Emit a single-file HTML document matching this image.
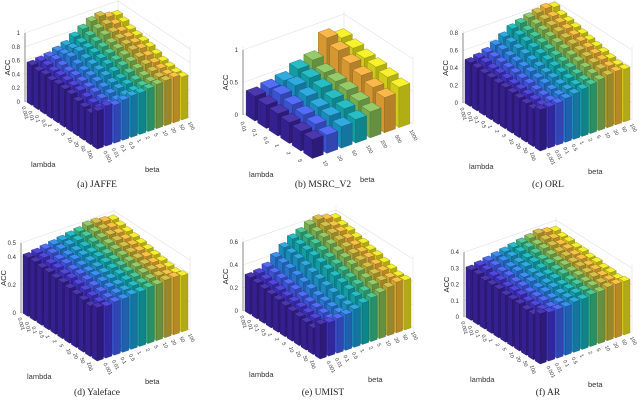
<!DOCTYPE html>
<html><head><meta charset="utf-8">
<style>
html,body{margin:0;padding:0;background:#fff;}
svg{display:block;}
text{font-family:"Liberation Sans",sans-serif;}
.cap{font-family:"Liberation Serif",serif;font-size:9.5px;fill:#222;}
</style></head>
<body>
<svg id="chart" width="640" height="402" viewBox="0 0 640 402"></svg>
<script>
// ---- data ----
const lambdaTicks11 = ["0.001","0.01","0.1","0.5","1","2","5","10","20","50","100"];
const betaTicks11 = ["0.001","0.01","0.1","0.5","1","2","5","10","20","50","100"];
const lambdaTicksB = ["0.01","0.1","0.5","1","2","5"];
const betaTicksB = ["10","20","50","100","200","500","1000"];

const accJAFFE = [
[.58,.60,.62,.66,.70,.78,.85,.92,.95,.90,.88],
[.56,.60,.64,.68,.72,.76,.82,.88,.90,.86,.85],
[.57,.58,.62,.70,.74,.75,.80,.85,.85,.82,.80],
[.55,.58,.60,.66,.70,.74,.78,.80,.82,.80,.78],
[.56,.57,.60,.63,.68,.72,.75,.78,.80,.78,.76],
[.55,.56,.58,.62,.66,.70,.72,.75,.78,.76,.74],
[.54,.55,.56,.60,.64,.66,.70,.72,.74,.72,.70],
[.50,.52,.55,.58,.60,.62,.66,.68,.70,.68,.66],
[.48,.50,.52,.55,.58,.60,.62,.64,.66,.66,.64],
[.46,.48,.50,.52,.55,.57,.60,.62,.64,.64,.62],
[.55,.58,.55,.58,.60,.60,.62,.64,.65,.66,.62]];
const accMSRC = [
[.38,.42,.46,.56,.62,.88,.80],
[.36,.44,.50,.54,.54,.80,.76],
[.34,.40,.45,.50,.52,.72,.72],
[.32,.36,.40,.45,.50,.65,.70],
[.30,.33,.38,.41,.45,.58,.66],
[.29,.28,.33,.36,.40,.54,.62]];
const accORL = [
[.50,.52,.55,.60,.66,.72,.75,.78,.80,.82,.80],
[.49,.52,.55,.60,.65,.70,.72,.76,.78,.78,.76],
[.48,.50,.54,.58,.63,.68,.70,.74,.76,.76,.74],
[.48,.50,.53,.57,.62,.66,.68,.72,.74,.74,.72],
[.47,.49,.52,.56,.60,.64,.66,.70,.72,.72,.70],
[.47,.48,.51,.55,.58,.62,.64,.68,.70,.70,.68],
[.46,.47,.50,.53,.56,.60,.62,.66,.68,.68,.66],
[.45,.46,.48,.52,.55,.58,.60,.64,.66,.66,.64],
[.44,.45,.47,.50,.53,.56,.58,.62,.64,.64,.62],
[.43,.44,.46,.49,.52,.54,.56,.60,.62,.62,.60],
[.47,.47,.48,.50,.52,.54,.56,.58,.60,.61,.60]];
const accYale = [
[.42,.43,.44,.45,.46,.47,.48,.50,.50,.49,.48],
[.42,.43,.44,.45,.46,.47,.48,.49,.49,.48,.47],
[.41,.42,.43,.44,.45,.46,.47,.48,.48,.47,.46],
[.41,.42,.43,.44,.45,.45,.46,.47,.47,.46,.45],
[.40,.41,.42,.43,.44,.45,.45,.46,.46,.45,.44],
[.40,.41,.42,.42,.43,.44,.44,.45,.45,.44,.43],
[.39,.40,.41,.42,.42,.43,.43,.44,.44,.43,.42],
[.38,.39,.40,.41,.41,.42,.42,.43,.43,.42,.41],
[.37,.38,.39,.40,.40,.41,.41,.42,.42,.41,.40],
[.36,.37,.38,.39,.39,.40,.40,.41,.41,.40,.39],
[.38,.37,.38,.38,.39,.39,.40,.40,.41,.41,.40]];
const accUMIST = [
[.32,.33,.36,.42,.48,.53,.56,.60,.62,.60,.58],
[.31,.32,.35,.41,.47,.52,.55,.58,.60,.58,.56],
[.30,.31,.34,.40,.46,.51,.54,.57,.58,.57,.55],
[.29,.30,.33,.38,.44,.50,.52,.55,.56,.55,.53],
[.28,.29,.32,.36,.42,.48,.50,.53,.54,.53,.52],
[.27,.28,.30,.34,.40,.46,.48,.51,.52,.51,.50],
[.26,.27,.29,.32,.38,.44,.46,.49,.50,.50,.49],
[.25,.26,.28,.31,.36,.42,.44,.47,.48,.48,.47],
[.24,.25,.27,.30,.34,.40,.42,.45,.46,.46,.45],
[.23,.24,.26,.29,.33,.38,.40,.43,.44,.44,.43],
[.30,.29,.30,.31,.33,.36,.38,.40,.42,.44,.43]];
const accAR = [
[.31,.32,.33,.34,.35,.36,.37,.38,.39,.38,.37],
[.31,.32,.33,.34,.35,.36,.37,.37,.38,.37,.36],
[.30,.31,.32,.33,.34,.35,.36,.37,.37,.36,.36],
[.30,.31,.32,.33,.34,.35,.35,.36,.36,.36,.35],
[.30,.30,.31,.32,.33,.34,.35,.35,.36,.35,.35],
[.29,.30,.31,.32,.33,.33,.34,.35,.35,.35,.34],
[.29,.30,.30,.31,.32,.33,.34,.34,.35,.34,.34],
[.29,.29,.30,.31,.32,.32,.33,.34,.34,.34,.33],
[.28,.29,.30,.30,.31,.32,.33,.33,.34,.33,.33],
[.28,.29,.29,.30,.31,.32,.32,.33,.33,.33,.32],
[.31,.30,.30,.30,.31,.31,.32,.32,.33,.33,.33]];
const ticksA = [0,0.2,0.4,0.6,0.8,1];
const ticksB = [0,0.5,1];
const ticksC = [0,0.2,0.4,0.6,0.8];
const ticksD = [0,0.2,0.4,0.5];
const ticksE = [0,0.2,0.4,0.6];
const ticksF = [0,0.1,0.2,0.3,0.4];

const colors11 = ['#3e26a8','#4538d9','#4560f5','#2d86f0','#1fa3dc','#16b8c0','#3bc591','#8cc85c','#d2bd3a','#fbbd38','#f6ec1f'];
const colors7 = ['#3e26a8','#4560f5','#1fa3dc','#16b8c0','#8cc85c','#fbb23a','#f6f01c'];

const panels = [
 {name:'jaffe',cap:'(a)  JAFFE',cx:97,cy:187,data:accJAFFE,lt:lambdaTicks11,bt:betaTicks11,ticks:ticksA,L:[25,102],F:[97,150],R:[190,118],S:69,cols:colors11,w:0.74},
 {name:'msrc',cap:'(b)  MSRC_V2',cx:323,cy:187,data:accMSRC,lt:lambdaTicksB,bt:betaTicksB,ticks:ticksB,L:[243,115],F:[312,160],R:[413,124],S:65,cols:colors7,w:0.76},
 {name:'orl',cap:'(c)  ORL',cx:548,cy:187,data:accORL,lt:lambdaTicks11,bt:betaTicks11,ticks:ticksC,L:[463,103],F:[540,152],R:[632,120],S:87.5,cols:colors11,w:0.74},
 {name:'yaleface',cap:'(d)  Yaleface',cx:97,cy:395,data:accYale,lt:lambdaTicks11,bt:betaTicks11,ticks:ticksD,L:[21,313],F:[97,362],R:[190,330],S:140,cols:colors11,w:0.74},
 {name:'umist',cap:'(e)  UMIST',cx:323,cy:395,data:accUMIST,lt:lambdaTicks11,bt:betaTicks11,ticks:ticksE,L:[243,311],F:[320,360],R:[413,328],S:115,cols:colors11,w:0.74},
 {name:'ar',cap:'(f)  AR',cx:548,cy:395,data:accAR,lt:lambdaTicks11,bt:betaTicks11,ticks:ticksF,L:[464,317],F:[540,365],R:[632,333],S:162,cols:colors11,w:0.74}
];

const NS='http://www.w3.org/2000/svg';
const svg=document.getElementById('chart');
function mk(tag,attrs,parent){const e=document.createElementNS(NS,tag);for(const k in attrs)e.setAttribute(k,attrs[k]);(parent||svg).appendChild(e);return e;}
function shade(hex,f){const n=parseInt(hex.slice(1),16);let r=(n>>16)&255,g=(n>>8)&255,b=n&255;
 const c=x=>Math.max(0,Math.min(255,Math.round(f>1?x+(255-x)*(f-1):x*f)));return `rgb(${c(r)},${c(g)},${c(b)})`;}

panels.forEach(p=>{
 const g=mk('g',{});
 
 
 const nl=p.data.length, nb=p.data[0].length;
 const v=[(p.F[0]-p.L[0])/nl,(p.F[1]-p.L[1])/nl];
 const u=[(p.R[0]-p.F[0])/nb,(p.R[1]-p.F[1])/nb];
 const zmax=p.ticks[p.ticks.length-1];
 const P=(i,j,z)=>[p.L[0]+v[0]*i+u[0]*j, p.L[1]+v[1]*i+u[1]*j - z*p.S];
 const wall=mk('g',{},g);
 
 
 const zt=zmax*1.05;
 p.ticks.forEach(t=>{
  const a=P(0,0,t),b=P(0,nb,t),c=P(nl,nb,t);
  mk('polyline',{points:`${a} ${b} ${c}`,fill:'none',stroke:'#e2e2e2','stroke-width':0.6},wall);
 });
 [[0,0],[0,nb],[nl,nb]].forEach(([i,j])=>{const a=P(i,j,0),b=P(i,j,zt);mk('line',{x1:a[0],y1:a[1],x2:b[0],y2:b[1],stroke:'#e2e2e2','stroke-width':0.6},wall);});
 const za=P(0,0,0),zb=P(0,0,zmax);
 const zax=mk('line',{x1:za[0],y1:za[1],x2:zb[0],y2:zb[1],stroke:'#444','stroke-width':0.6},g);
 
 
 p.ticks.forEach(t=>{const q=P(0,0,t);
  const tx=mk('text',{x:q[0]-5,y:q[1]+2,'font-size':6,'text-anchor':'end',fill:'#333'},g);tx.textContent=String(t);
  
  });
 const yl=mk('text',{x:0,y:0,'font-size':7.5,'text-anchor':'middle',fill:'#222',transform:`translate(${za[0]-15},${(za[1]+zb[1])/2}) rotate(-90)`},g);
 yl.textContent='ACC';
 
 
 const order=[];
 for(let i=0;i<nl;i++)for(let j=0;j<nb;j++)order.push([i,j]);
 order.sort((a,b)=>(a[0]-a[1])-(b[0]-b[1]) || (a[0]-b[0]));
 const m=(1-p.w)/2;
 order.forEach(([i,j])=>{
  const z=p.data[i][j]; const col=p.cols[j];
  const i0=i+m,i1=i+1-m,j0=j+m,j1=j+1-m;
  const bg=mk('g',{},g);
  
  
  const poly=(pts,fill)=>mk('polygon',{points:pts.map(q=>q.join(',')).join(' '),fill:fill,stroke:shade(col,0.55),'stroke-width':0.35},bg);
  poly([P(i0,j0,0),P(i1,j0,0),P(i1,j0,z),P(i0,j0,z)],shade(col,0.85));
  poly([P(i1,j0,0),P(i1,j1,0),P(i1,j1,z),P(i1,j0,z)],shade(col,0.72));
  poly([P(i0,j0,z),P(i1,j0,z),P(i1,j1,z),P(i0,j1,z)],shade(col,1.08));
 });
 p.lt.forEach((s,i)=>{const q=P(i+0.5,-0.3,0);
  const t=mk('text',{x:0,y:0,'font-size':5.2,fill:'#333',transform:`translate(${q[0]-4},${q[1]+2}) rotate(74)`},g);t.textContent=s;
  
  });
 p.bt.forEach((s,j)=>{const q=P(nl+0.3,j+0.5,0);
  const t=mk('text',{x:0,y:0,'font-size':5.2,fill:'#333',transform:`translate(${q[0]},${q[1]+2}) rotate(62)`},g);t.textContent=s;
  
  });
 const lt=mk('text',{x:za[0]+6,y:p.F[1]+17,'font-size':7.5,fill:'#333'},g);lt.textContent='lambda';
 
 
 const bt=mk('text',{x:p.F[0]+48,y:p.F[1]+22,'font-size':7.5,fill:'#333'},g);bt.textContent='beta';
 
 
 const cap=mk('text',{x:p.cx,y:p.cy,'text-anchor':'middle',class:'cap'},g);cap.textContent=p.cap;
 
 
});
</script>
</body></html>
